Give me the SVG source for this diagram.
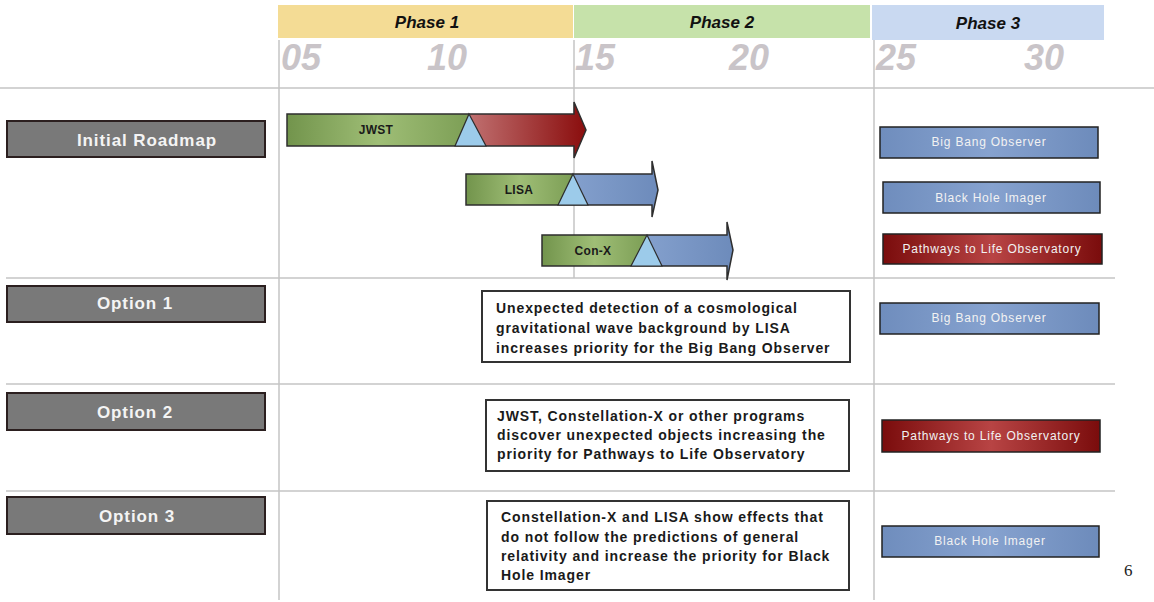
<svg xmlns="http://www.w3.org/2000/svg" width="1154" height="602" viewBox="0 0 1154 602">
<defs>
<linearGradient id="gGreen" x1="0" y1="0" x2="1" y2="0">
<stop offset="0" stop-color="#72944c"/><stop offset="0.5" stop-color="#9fbe76"/><stop offset="1" stop-color="#7c9e55"/>
</linearGradient>
<linearGradient id="gRed" x1="0" y1="0" x2="1" y2="0">
<stop offset="0" stop-color="#e6b8b8"/><stop offset="0.5" stop-color="#cf8c8c"/><stop offset="1" stop-color="#8a0d0d"/>
</linearGradient>
<linearGradient id="gBlue" x1="0" y1="0" x2="1" y2="0">
<stop offset="0" stop-color="#6f8dbd"/><stop offset="0.5" stop-color="#86a2cf"/><stop offset="1" stop-color="#6d8bbb"/>
</linearGradient>
<linearGradient id="gDark" x1="0" y1="0" x2="1" y2="0">
<stop offset="0" stop-color="#7a0c0c"/><stop offset="0.5" stop-color="#b84444"/><stop offset="1" stop-color="#7a0c0c"/>
</linearGradient>
<style>
.grid{stroke:#c4c4c4;stroke-width:1.5;fill:none}
.phase{font-family:"Liberation Sans",Arial,sans-serif;font-weight:bold;font-style:italic;font-size:17px;fill:#111;text-anchor:middle}
.year{font-family:"Liberation Sans",Arial,sans-serif;font-weight:bold;font-style:italic;font-size:36px;fill:#c9c4c8}
.lbl rect{fill:#797979;stroke:#2b1f1f;stroke-width:2}
.lbl text{font-family:"Liberation Sans",Arial,sans-serif;font-weight:bold;font-size:17px;letter-spacing:0.9px;fill:#f4f4f4;text-anchor:middle}
.outline{fill:none;stroke:#2e2e2e;stroke-width:1.5}
.tri{fill:#9ccbea;stroke:#2e2e2e;stroke-width:1.2}
.bar text{font-family:"Liberation Sans",Arial,sans-serif;font-weight:bold;font-size:12px;letter-spacing:0.3px;fill:#1a1a1a;text-anchor:middle}
.mis rect{stroke:#222;stroke-width:1.5}
.mis text{font-family:"Liberation Sans",Arial,sans-serif;font-size:12px;letter-spacing:0.8px;fill:#f2f2f2;text-anchor:middle}
.blue{fill:url(#gBlue)}
.dred{fill:url(#gDark)}
.note rect{fill:#fff;stroke:#333;stroke-width:2}
.note text{font-family:"Liberation Sans",Arial,sans-serif;font-weight:bold;font-size:14px;letter-spacing:0.9px;fill:#1a1a1a}
</style>
</defs>
<rect width="1154" height="602" fill="#fff"/>
<g id="header">
<rect x="278" y="5" width="295" height="33" fill="#f4dc95"/>
<rect x="574" y="5" width="296" height="33" fill="#c6e2aa"/>
<rect x="872" y="5" width="232" height="35" fill="#c9d9f1"/>
<text class="phase" x="427" y="28">Phase 1</text>
<text class="phase" x="722" y="28">Phase 2</text>
<text class="phase" x="988" y="29">Phase 3</text>
<text class="year" x="281" y="70">05</text>
<text class="year" x="427" y="70">10</text>
<text class="year" x="575" y="70">15</text>
<text class="year" x="729" y="70">20</text>
<text class="year" x="876" y="70">25</text>
<text class="year" x="1024" y="70">30</text>
</g>
<g id="grid">
<line class="grid" x1="0" y1="88" x2="1154" y2="88"/>
<line class="grid" x1="279" y1="40" x2="279" y2="600"/>
<line class="grid" x1="574" y1="40" x2="574" y2="278"/>
<line class="grid" x1="874" y1="40" x2="874" y2="600"/>
<line class="grid" x1="6" y1="278" x2="1115" y2="278"/>
<line class="grid" x1="6" y1="384" x2="1115" y2="384"/>
<line class="grid" x1="6" y1="491" x2="1115" y2="491"/>
</g>
<g id="label-initial" class="lbl"><rect x="7" y="121" width="258" height="36"/><text x="147" y="146">Initial Roadmap</text></g>
<g id="label-opt1" class="lbl"><rect x="7" y="286" width="258" height="36"/><text x="135" y="309">Option 1</text></g>
<g id="label-opt2" class="lbl"><rect x="7" y="393" width="258" height="37"/><text x="135" y="418">Option 2</text></g>
<g id="label-opt3" class="lbl"><rect x="7" y="497" width="258" height="37"/><text x="137" y="522">Option 3</text></g>
<g id="bar-jwst" class="bar">
<path d="M287,114 H574 V102 L586,130 L574,158 V146 H287 Z" fill="url(#gRed)"/>
<rect x="287" y="114" width="183" height="32" fill="url(#gGreen)"/>
<path class="outline" d="M287,114 H574 V102 L586,130 L574,158 V146 H287 Z"/>
<polygon class="tri" points="469,114 486,146 455,146"/>
<text x="376" y="134">JWST</text>
</g>
<g id="bar-lisa" class="bar">
<path d="M466,174 H652 V161 L658,190 L652,217 V205 H466 Z" fill="url(#gBlue)"/>
<rect x="466" y="174" width="107" height="31" fill="url(#gGreen)"/>
<path class="outline" d="M466,174 H652 V161 L658,190 L652,217 V205 H466 Z"/>
<polygon class="tri" points="573,174 588,205 558,205"/>
<text x="519" y="194">LISA</text>
</g>
<g id="bar-conx" class="bar">
<path d="M542,235 H727 V222 L733,250 L727,280 V266 H542 Z" fill="url(#gBlue)"/>
<rect x="542" y="235" width="105" height="31" fill="url(#gGreen)"/>
<path class="outline" d="M542,235 H727 V222 L733,250 L727,280 V266 H542 Z"/>
<polygon class="tri" points="647,235 662,266 631,266"/>
<text x="593" y="255">Con-X</text>
</g>
<g id="bbo-1" class="mis"><rect class="blue" x="880" y="127" width="218" height="31"/><text x="989" y="146">Big Bang Observer</text></g>
<g id="bhi-1" class="mis"><rect class="blue" x="883" y="182" width="217" height="31"/><text x="991" y="202">Black Hole Imager</text></g>
<g id="plo-1" class="mis"><rect class="dred" x="883" y="234" width="219" height="30"/><text x="992" y="253">Pathways to Life Observatory</text></g>
<g id="bbo-2" class="mis"><rect class="blue" x="880" y="303" width="219" height="31"/><text x="989" y="322">Big Bang Observer</text></g>
<g id="plo-2" class="mis"><rect class="dred" x="882" y="420" width="218" height="32"/><text x="991" y="440">Pathways to Life Observatory</text></g>
<g id="bhi-2" class="mis"><rect class="blue" x="882" y="526" width="217" height="31"/><text x="990" y="545">Black Hole Imager</text></g>
<g id="note-1" class="note"><rect x="482" y="291" width="368" height="71"/>
<text x="496" y="313">Unexpected detection of a cosmological</text>
<text x="496" y="333">gravitational wave background by LISA</text>
<text x="496" y="353">increases priority for the Big Bang Observer</text></g>
<g id="note-2" class="note"><rect x="486" y="400" width="363" height="71"/>
<text x="497" y="421">JWST, Constellation-X or other programs</text>
<text x="497" y="440">discover unexpected objects increasing the</text>
<text x="497" y="459">priority for Pathways to Life Observatory</text></g>
<g id="note-3" class="note"><rect x="487" y="501" width="362" height="89"/>
<text x="501" y="522">Constellation-X and LISA show effects that</text>
<text x="501" y="542">do not follow the predictions of general</text>
<text x="501" y="561">relativity and increase the priority for Black</text>
<text x="501" y="580">Hole Imager</text></g>
<text id="page" x="1124" y="576" font-family="Liberation Serif,serif" font-size="17" fill="#222">6</text>
</svg>
